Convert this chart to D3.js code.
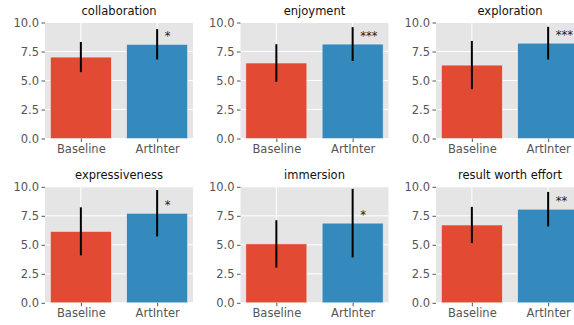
<!DOCTYPE html>
<html>
<head>
<meta charset="utf-8">
<script src="https://cdn.jsdelivr.net/npm/d3@7"></script>
<style>
  body { margin: 0; background: #fff; }
  svg { display: block; font-family: "DejaVu Sans", sans-serif; }
</style>
</head>
<body>
<svg id="chart"></svg>
<script>
var titles = ["collaboration", "enjoyment", "exploration", "expressiveness", "immersion", "result worth effort"];
var conditions = ["Baseline", "ArtInter"];
var baselineMean = [7.02, 6.51, 6.33, 6.16, 5.08, 6.71];
var baselineErr = [1.3, 1.62, 2.08, 2.07, 2.04, 1.56];
var artInterMean = [8.12, 8.14, 8.22, 7.72, 6.87, 8.07];
var artInterErr = [1.31, 1.46, 1.41, 2.0, 2.96, 1.49];
var significance = ["*", "***", "***", "*", "*", "**"];
var yTicks = [0, 2.5, 5, 7.5, 10];

var width = 574, height = 325;
var colors = ["#E24A33", "#348ABD"];
var colX = [45, 240.5, 436];
var rowY = [22.5, 186.8];
var panelW = 148, panelH = 116;

var svg = d3.select("#chart")
  .attr("width", width)
  .attr("height", height);

titles.forEach(function (title, i) {
  var x0 = colX[i % 3], y0 = rowY[Math.floor(i / 3)];
  var means = [baselineMean[i], artInterMean[i]];
  var errs = [baselineErr[i], artInterErr[i]];

  var x = d3.scaleLinear().domain([-0.47, 1.47]).range([0, panelW]);
  var y = d3.scaleLinear().domain([0, 10]).range([panelH, 0]);

  var g = svg.append("g")
    .attr("transform", "translate(" + x0 + "," + y0 + ")");

  g.append("rect")
    .attr("width", panelW)
    .attr("height", panelH)
    .style("fill", "#E5E5E5");

  // grid
  g.selectAll(".hgrid").data(yTicks).enter().append("line")
    .attr("x1", 0).attr("x2", panelW)
    .attr("y1", function (d) { return y(d); })
    .attr("y2", function (d) { return y(d); })
    .style("stroke", "#fff").style("stroke-width", 1);

  g.selectAll(".vgrid").data([0, 1]).enter().append("line")
    .attr("x1", function (d) { return x(d); })
    .attr("x2", function (d) { return x(d); })
    .attr("y1", 0).attr("y2", panelH)
    .style("stroke", "#fff").style("stroke-width", 1);

  g.selectAll(".bar").data(means).enter().append("rect")
    .attr("x", function (d, j) { return x(j - 0.4); })
    .attr("width", x(0.8) - x(0))
    .attr("y", function (d) { return y(d); })
    .attr("height", function (d) { return y(0) - y(d); })
    .style("fill", function (d, j) { return colors[j]; })
    .style("stroke", "#EEEEEE")
    .style("stroke-width", 0.6);

  g.selectAll(".err").data(means).enter().append("line")
    .attr("x1", function (d, j) { return x(j); })
    .attr("x2", function (d, j) { return x(j); })
    .attr("y1", function (d, j) { return y(d - errs[j]); })
    .attr("y2", function (d, j) { return y(d + errs[j]); })
    .style("stroke", "#000")
    .style("stroke-width", 2);

  g.append("text")
    .attr("x", x(1.1))
    .attr("y", y(artInterMean[i] + 0.35))
    .style("font-size", "11.5px")
    .style("fill", "#222")
    .text(significance[i]);

  var yAxis = g.append("g")
    .call(d3.axisLeft(y).tickValues(yTicks).tickFormat(d3.format(".1f")).tickSize(3.5).tickPadding(2.5));
  var xAxis = g.append("g")
    .attr("transform", "translate(0," + panelH + ")")
    .call(d3.axisBottom(x).tickValues([0, 1]).tickFormat(function (d) { return conditions[d]; }).tickSize(3.5).tickPadding(2.5));

  [yAxis, xAxis].forEach(function (a) {
    a.select(".domain").remove();
    a.selectAll(".tick line").style("stroke", "#555");
    a.selectAll(".tick text")
      .style("fill", "#555")
      .style("font-size", "11.5px")
      .style("font-family", "DejaVu Sans, sans-serif");
  });

  g.append("text")
    .attr("x", panelW / 2)
    .attr("y", -7.5)
    .attr("text-anchor", "middle")
    .style("font-size", "11.5px")
    .style("fill", "#111")
    .text(title);
});
</script>
</body>
</html>
